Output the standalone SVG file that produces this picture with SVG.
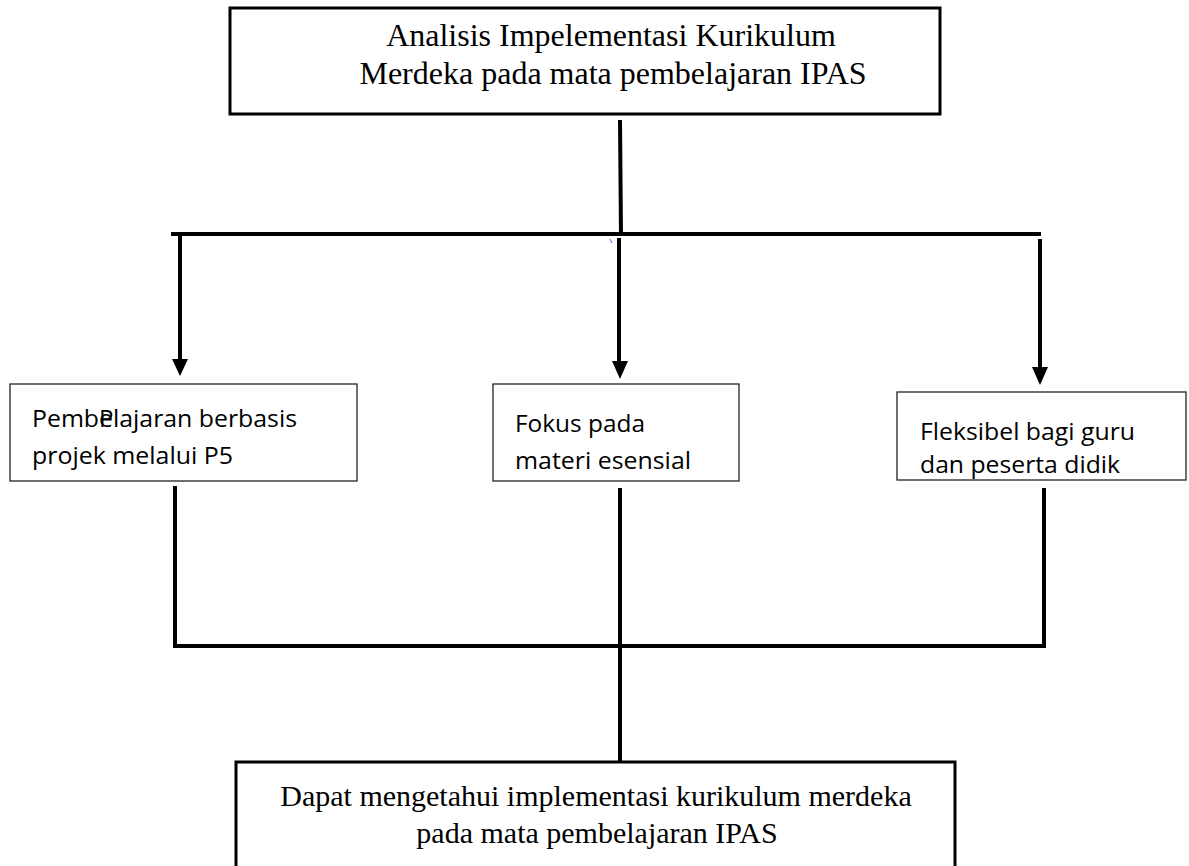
<svg xmlns="http://www.w3.org/2000/svg" width="1189" height="866" viewBox="0 0 1189 866">
<style>
.big{fill:#fff;stroke:#000;stroke-width:3}
.small{fill:#fff;stroke:#222;stroke-width:1.3}
.serif{font-family:"Liberation Serif","Times New Roman",serif;font-size:32px;fill:#000}
.serif2{font-family:"Liberation Serif","Times New Roman",serif;font-size:30px;fill:#000}
.sans{font-family:"Open Sans","Noto Sans",sans-serif;font-size:24px;fill:#000}
.conn{stroke:#000;stroke-width:4;fill:none}
</style>
<rect width="1189" height="866" fill="#fff"/>
<g id="connectors">
<line class="conn" x1="620" y1="120" x2="621" y2="236"/>
<line class="conn" x1="171" y1="234" x2="1041" y2="234"/>
<line class="conn" x1="180" y1="236" x2="180" y2="360"/>
<polygon points="172,359 188,359 180,376" fill="#000"/>
<line class="conn" x1="619" y1="238" x2="619" y2="362"/>
<polygon points="612,361 628,361 620,379" fill="#000"/>
<line class="conn" x1="1040" y1="239" x2="1040" y2="368"/>
<polygon points="1032,367 1048,367 1040,385" fill="#000"/>
<line x1="610" y1="239" x2="612" y2="243" stroke="#4472c4" stroke-width="1"/>
<polyline class="conn" points="175,486 175,646 1044,646 1044,488"/>
<line class="conn" x1="620" y1="488" x2="620" y2="762"/>
</g>
<g id="node-top">
<rect class="big" x="230" y="8" width="710" height="106"/>
<text class="serif" x="611" y="46" text-anchor="middle">Analisis Impelementasi Kurikulum</text>
<text class="serif" x="613" y="84" text-anchor="middle">Merdeka pada mata pembelajaran IPAS</text>
</g>
<g id="node-left">
<rect class="small" x="10" y="384" width="347" height="97"/>
<text class="sans" x="32" y="427" textLength="265" lengthAdjust="spacingAndGlyphs">Pembelajaran berbasis</text>
<text class="sans" x="99" y="427">P</text>
<text class="sans" x="32" y="464" textLength="201" lengthAdjust="spacingAndGlyphs">projek melalui P5</text>
</g>
<g id="node-middle">
<rect class="small" x="493" y="384" width="246" height="97"/>
<text class="sans" x="515" y="432" textLength="130" lengthAdjust="spacingAndGlyphs">Fokus pada</text>
<text class="sans" x="515" y="469" textLength="176" lengthAdjust="spacingAndGlyphs">materi esensial</text>
</g>
<g id="node-right">
<rect class="small" x="897" y="392" width="289" height="88"/>
<text class="sans" x="920" y="440" textLength="215" lengthAdjust="spacingAndGlyphs">Fleksibel bagi guru</text>
<text class="sans" x="920" y="473" textLength="200" lengthAdjust="spacingAndGlyphs">dan peserta didik</text>
</g>
<g id="node-bottom">
<rect class="big" x="236" y="762" width="719" height="110"/>
<text class="serif2" x="596" y="806" text-anchor="middle">Dapat mengetahui implementasi kurikulum merdeka</text>
<text class="serif2" x="597" y="843" text-anchor="middle">pada mata pembelajaran IPAS</text>
</g>
</svg>
